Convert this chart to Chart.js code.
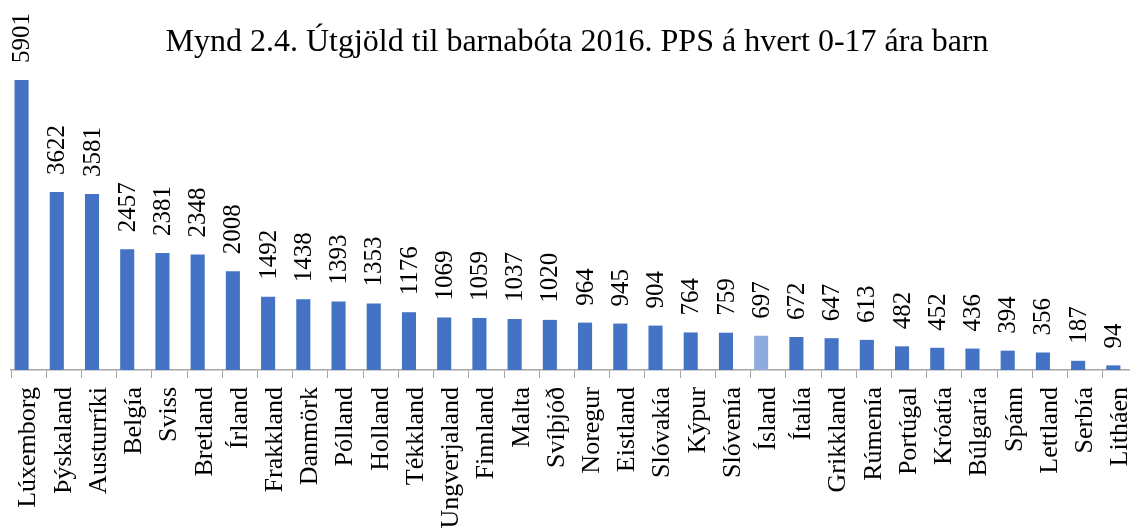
<!DOCTYPE html>
<html>
<head>
<meta charset="utf-8">
<script src="https://cdn.jsdelivr.net/npm/chart.js@4/dist/chart.umd.min.js"></script>
<style>
    html, body { margin: 0; padding: 0; background: #fff; overflow: hidden; }
    #wrap { width: 1140px; height: 529px; }
</style>
</head>
<body>
<div id="wrap"><canvas id="chart" width="1140" height="529"></canvas></div>
<script>
// Gögn
const titleText = 'Mynd 2.4. Útgjöld til barnabóta 2016. PPS á hvert 0-17 ára barn';
const countries = ['Lúxemborg', 'Þýskaland', 'Austurríki', 'Belgía', 'Sviss', 'Bretland', 'Írland', 'Frakkland',
    'Danmörk', 'Pólland', 'Holland', 'Tékkland', 'Ungverjaland', 'Finnland', 'Malta', 'Svíþjóð',
    'Noregur', 'Eistland', 'Slóvakía', 'Kýpur', 'Slóvenía', 'Ísland', 'Ítalía', 'Grikkland',
    'Rúmenía', 'Portúgal', 'Króatía', 'Búlgaría', 'Spánn', 'Lettland', 'Serbía', 'Litháen'];
const ppsPerChild = [5901, 3622, 3581, 2457, 2381, 2348, 2008, 1492, 1438, 1393, 1353, 1176, 1069, 1059, 1037, 1020,
    964, 945, 904, 764, 759, 697, 672, 647, 613, 482, 452, 436, 394, 356, 187, 94];
const highlight = 'Ísland';
// tóm röð sem heldur plássi við hlið súlnanna (eins og í Excel)
const emptySeries = countries.map(() => null);

const FONT = "'Liberation Serif', 'Times New Roman', serif";
const barColors = countries.map(c => c === highlight ? '#8FAADC' : '#4472C4');

// Titill og gildi ofan á súlum
const labelsPlugin = {
    id: 'labels',
    afterDatasetsDraw(chart) {
        const ctx = chart.ctx;
        ctx.save();
        ctx.fillStyle = '#000';
        ctx.font = '32px ' + FONT;
        ctx.textAlign = 'center';
        ctx.textBaseline = 'alphabetic';
        ctx.fillText(titleText, 577, 51);

        ctx.font = '25px ' + FONT;
        ctx.textAlign = 'left';
        ctx.textBaseline = 'middle';
        chart.getDatasetMeta(0).data.forEach((bar, i) => {
            ctx.save();
            ctx.translate(bar.x, bar.y - 17);
            ctx.rotate(-Math.PI / 2);
            ctx.fillText(String(ppsPerChild[i]), 0, 1);
            ctx.restore();
        });
        ctx.restore();
    }
};

new Chart(document.getElementById('chart'), {
    type: 'bar',
    data: {
        labels: countries,
        datasets: [
            { data: ppsPerChild, backgroundColor: barColors, borderWidth: 0 },
            { data: emptySeries, backgroundColor: 'transparent' }
        ]
    },
    options: {
        responsive: false,
        animation: false,
        categoryPercentage: 0.8,
        barPercentage: 1,
        layout: { padding: { left: 11, right: 2, top: 26, bottom: 0 } },
        plugins: { legend: { display: false }, tooltip: { enabled: false }, title: { display: false } },
        scales: {
            x: {
                grid: { offset: true, drawOnChartArea: false, drawTicks: true, tickLength: 8, color: '#A6A6A6' },
                border: { color: '#A6A6A6', width: 1.5 },
                ticks: { minRotation: 90, maxRotation: 90, autoSkip: false, padding: 9, color: '#000', font: { family: FONT, size: 26 } },
                afterFit(scale) {
                    scale.height = 159;
                    // engin aukabil fyrir snúna merkimiða til hliðar
                    scale.paddingLeft = 0;
                    scale.paddingRight = 0;
                }
            },
            y: { display: false, min: 0, max: 7000 }
        }
    },
    plugins: [labelsPlugin]
});
</script>
</body>
</html>
